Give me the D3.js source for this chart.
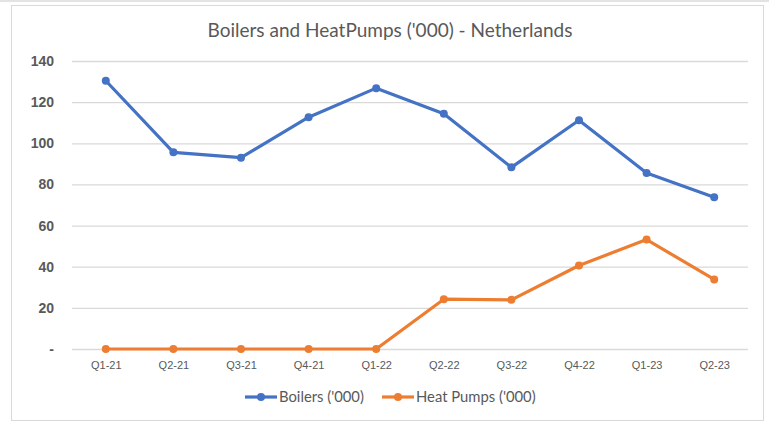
<!DOCTYPE html>
<html>
<head>
<script src="https://cdnjs.cloudflare.com/ajax/libs/d3/7.8.5/d3.min.js"></script>
<style>
  body { margin: 0; background: #fff; }
  svg { display: block; font-family: Lato, "Open Sans", sans-serif; }
</style>
</head>
<body>
<div id="chart"></div>
<script>
const quarters = ["Q1-21", "Q2-21", "Q3-21", "Q4-21", "Q1-22", "Q2-22", "Q3-22", "Q4-22", "Q1-23", "Q2-23"];
const boilers = [130.4, 95.6, 93.0, 112.7, 126.8, 114.3, 88.3, 111.2, 85.5, 73.8];
const heatPumps = [0, 0, 0, 0, 0, 24.2, 23.9, 40.6, 53.2, 33.8];
const yTicks = [0, 20, 40, 60, 80, 100, 120, 140];
const seriesNames = ["Boilers ('000)", "Heat Pumps ('000)"];
const colours = ["#4472C4", "#ED7D31"];

const w = 769, h = 428;
const plotLeft = 72, plotRight = 748, plotTop = 61, plotBottom = 349;

const svg = d3.select("#chart").append("svg")
    .attr("width", w)
    .attr("height", h);

// outer frame
svg.append("rect").attr("x", 0).attr("y", 0).attr("width", w).attr("height", 2).attr("fill", "#e3e3e3");
svg.append("rect")
    .attr("x", 11.5).attr("y", 5.5)
    .attr("width", 752).attr("height", 415)
    .attr("fill", "#fff").attr("stroke", "#d9d9d9");

const x = d3.scalePoint()
    .domain(quarters)
    .range([plotLeft, plotRight])
    .padding(0.5);

const y = d3.scaleLinear()
    .domain([0, 140])
    .range([plotBottom, plotTop]);

// title
svg.append("text")
    .attr("x", 390).attr("y", 37)
    .attr("text-anchor", "middle")
    .attr("font-size", 19)
    .attr("fill", "#595959")
    .text("Boilers and HeatPumps ('000) - Netherlands");

// gridlines + y labels
const yAxis = svg.append("g")
    .attr("transform", `translate(${plotLeft},0)`)
    .call(d3.axisLeft(y).tickValues(yTicks).tickSize(-(plotRight - plotLeft)).tickPadding(18)
        .tickFormat(d => d === 0 ? "-" : d));
yAxis.select(".domain").remove();
yAxis.selectAll(".tick line").attr("stroke", "#d9d9d9").attr("stroke-width", 1.3);
yAxis.selectAll(".tick text")
    .attr("fill", "#595959")
    .attr("font-size", 14)
    .attr("font-weight", "bold");

// x labels
const xAxis = svg.append("g")
    .attr("transform", `translate(0,${plotBottom})`)
    .call(d3.axisBottom(x).tickSize(0).tickPadding(12));
xAxis.select(".domain").remove();
xAxis.selectAll(".tick text")
    .attr("fill", "#595959")
    .attr("font-size", 11);

// series
const line = d3.line()
    .x((d, i) => x(quarters[i]))
    .y(d => y(d));

[boilers, heatPumps].forEach((vals, k) => {
    svg.append("path")
        .datum(vals)
        .attr("fill", "none")
        .attr("stroke", colours[k])
        .attr("stroke-width", 3.2)
        .attr("stroke-linejoin", "round")
        .attr("d", line);
    svg.selectAll(".pt" + k)
        .data(vals)
        .enter()
        .append("circle")
        .attr("cx", (d, i) => x(quarters[i]))
        .attr("cy", d => y(d))
        .attr("r", 4)
        .attr("fill", colours[k]);
});

// legend
const legendX = [245, 382];
seriesNames.forEach((name, k) => {
    const g = svg.append("g").attr("transform", `translate(${legendX[k]},397)`);
    g.append("line").attr("x1", 0).attr("x2", 32).attr("y1", 0).attr("y2", 0)
        .attr("stroke", colours[k]).attr("stroke-width", 3.2);
    g.append("circle").attr("cx", 16).attr("cy", 0).attr("r", 4).attr("fill", colours[k]);
    g.append("text").attr("x", 34).attr("y", 5)
        .attr("font-size", 14.8)
        .attr("fill", "#595959")
        .text(name);
});
</script>
</body>
</html>
